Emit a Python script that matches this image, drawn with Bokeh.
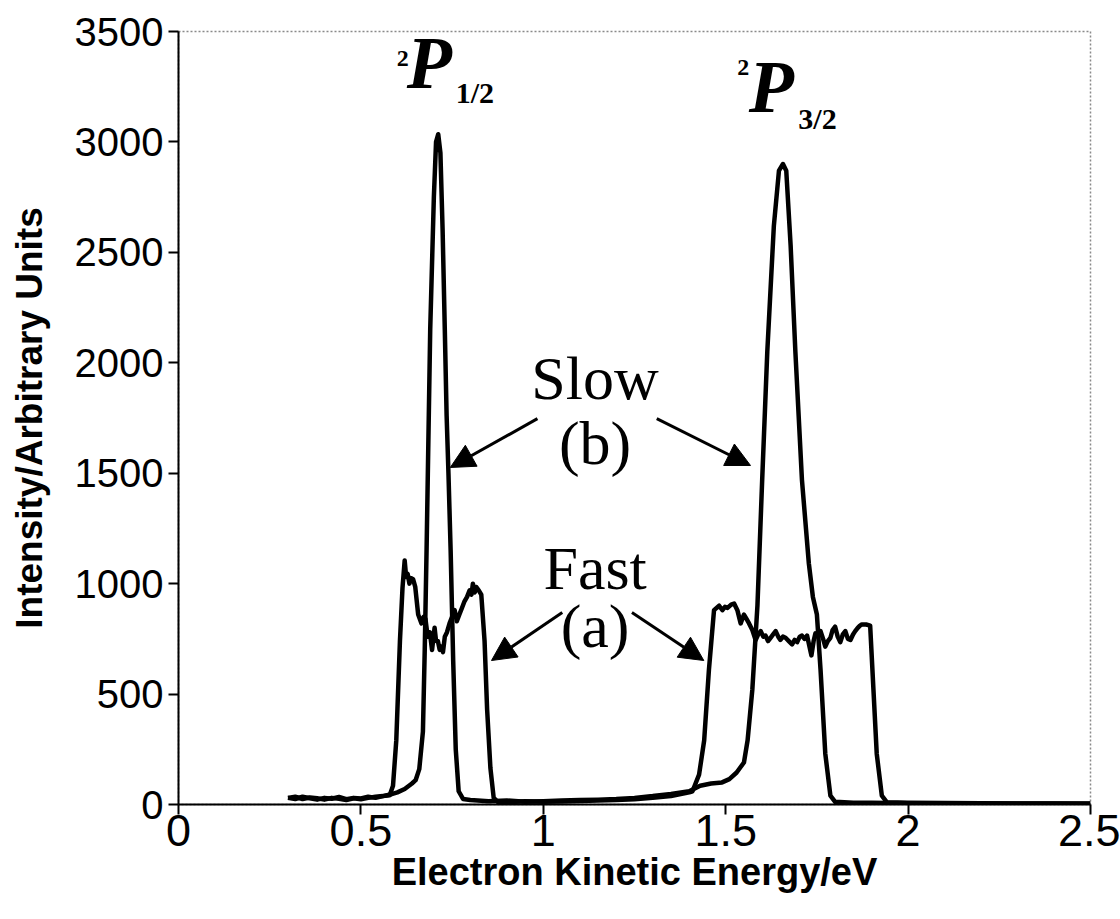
from bokeh.plotting import figure
from bokeh.models import Label, Arrow, NormalHead, FixedTicker, Range1d
from bokeh.embed import file_html
from bokeh.resources import INLINE

# ---------------- data ----------------
x_ticks = [0, 0.5, 1, 1.5, 2, 2.5]
x_tick_labels = ["0", "0.5", "1", "1.5", "2", "2.5"]
y_ticks = [0, 500, 1000, 1500, 2000, 2500, 3000, 3500]

# Slow (b) spectrum
slow_energy = [0.30, 0.32, 0.34, 0.36, 0.38, 0.40, 0.42, 0.44, 0.46, 0.48, 0.50, 0.52, 0.54,
               0.56, 0.58, 0.60, 0.62, 0.64, 0.65, 0.66, 0.67, 0.675, 0.68, 0.69, 0.70, 0.706,
               0.712, 0.718, 0.724, 0.730, 0.735, 0.740, 0.746, 0.753, 0.760, 0.768, 0.78, 0.80,
               0.85, 0.90, 0.95, 1.00, 1.05, 1.10, 1.15, 1.20, 1.25, 1.30, 1.35, 1.40, 1.43, 1.46,
               1.49, 1.51, 1.53, 1.55, 1.56, 1.573, 1.587, 1.60, 1.614, 1.632, 1.646, 1.657, 1.666,
               1.678, 1.691, 1.709, 1.728, 1.739, 1.75, 1.76, 1.773, 1.787, 1.80, 1.85, 1.90, 2.0,
               2.1, 2.2, 2.3, 2.4, 2.5]
slow_intensity = [30, 25, 35, 28, 22, 30, 26, 34, 24, 30, 27, 35, 30,
                  38, 45, 55, 70, 95, 110, 160, 330, 700, 1150, 2150, 2750, 3000,
                  3035, 2950, 2600, 2150, 1760, 1500, 1150, 650, 250, 60, 25, 20,
                  15, 18, 12, 15, 18, 20, 22, 25, 30, 38, 48, 60, 85, 95,
                  100, 115, 145, 190, 290, 520, 900, 1470, 2050, 2620, 2870, 2900, 2870,
                  2530, 2050, 1470, 1090, 940, 860, 610, 230, 40, 12, 8, 8, 6,
                  6, 5, 5, 4, 3]

# Fast (a) spectrum
fast_energy = [0.30, 0.32, 0.34, 0.36, 0.38, 0.40, 0.42, 0.44, 0.46, 0.48, 0.50, 0.52, 0.54,
               0.56, 0.579, 0.588, 0.597, 0.607, 0.614, 0.620, 0.624, 0.628, 0.633, 0.637, 0.643,
               0.649, 0.657, 0.666, 0.672, 0.677, 0.683, 0.689, 0.695, 0.702, 0.706, 0.711, 0.716,
               0.720, 0.725, 0.730, 0.736, 0.743, 0.750, 0.757, 0.763, 0.770, 0.777, 0.784, 0.791,
               0.798, 0.803, 0.807, 0.812, 0.816, 0.823, 0.830, 0.839, 0.846, 0.855, 0.864, 0.875,
               0.90, 0.95, 1.00, 1.05, 1.10, 1.15, 1.20, 1.25, 1.30, 1.35, 1.40, 1.409, 1.427,
               1.441, 1.454, 1.468, 1.482, 1.491, 1.498, 1.505, 1.515, 1.523, 1.532, 1.541, 1.550,
               1.557, 1.564, 1.573, 1.582, 1.589, 1.596, 1.603, 1.609, 1.616, 1.623, 1.630, 1.637,
               1.644, 1.650, 1.657, 1.664, 1.673, 1.682, 1.689, 1.696, 1.703, 1.709, 1.716, 1.723,
               1.729, 1.735, 1.741, 1.746, 1.753, 1.760, 1.767, 1.773, 1.780, 1.787, 1.793, 1.800,
               1.807, 1.814, 1.821, 1.828, 1.835, 1.842, 1.849, 1.855, 1.862, 1.868, 1.873, 1.885,
               1.896, 1.905, 1.914, 1.928, 1.942, 2.0, 2.1, 2.2, 2.3, 2.4, 2.5]
fast_intensity = [30, 35, 25, 32, 28, 22, 30, 26, 20, 28, 24, 30, 35,
                  38, 42, 85, 290, 740, 980, 1105, 1030, 1045, 1000, 1025, 1020,
                  985, 860, 820, 850, 840, 760, 780, 700, 800, 740, 740, 700,
                  715, 690, 760, 780, 820, 850, 880, 830, 860, 890, 920, 940,
                  970, 950, 1000, 960, 985, 970, 950, 740, 430, 165, 30, 12,
                  10, 15, 12, 14, 16, 18, 20, 24, 30, 38, 55, 60, 135,
                  290, 610, 880, 900, 880, 895, 890, 905, 910, 880, 820, 860,
                  840, 820, 790, 745, 770, 785, 760, 765, 740, 755, 770, 785,
                  760, 745, 760, 755, 740, 725, 745, 735, 760, 765, 750, 765,
                  720, 675, 740, 775, 760, 785, 750, 715, 740, 755, 790, 805,
                  760, 735, 770, 785, 750, 745, 770, 785, 800, 810, 815, 815,
                  810, 520, 230, 40, 10, 8, 7, 6, 5, 5, 4]

# ---------------- figure ----------------
p = figure(width=1120, height=919, x_range=Range1d(0, 2.5), y_range=Range1d(0, 3500),
           output_backend="svg", toolbar_location=None,
           min_border_left=178, min_border_right=30, min_border_top=31, min_border_bottom=115)
p.background_fill_color = "white"
p.border_fill_color = "white"
p.xgrid.visible = False
p.ygrid.visible = False
p.outline_line_color = "#8a8a8a"
p.outline_line_dash = "2 2"
p.outline_line_width = 1.5

for ax in (p.xaxis[0], p.yaxis[0]):
    ax.axis_line_color = "black"
    ax.axis_line_width = 2
    ax.major_tick_line_color = "black"
    ax.major_tick_line_width = 2
    ax.major_tick_out = 10
    ax.major_tick_in = 0
    ax.minor_tick_out = 0
    ax.minor_tick_in = 0
    ax.major_label_text_font = "Liberation Sans"
    ax.major_label_text_color = "black"
    ax.axis_label_text_font = "Liberation Sans"
    ax.axis_label_text_font_style = "bold"
    ax.axis_label_text_color = "black"

p.xaxis.ticker = FixedTicker(ticks=x_ticks)
p.xaxis.major_label_overrides = {t: l for t, l in zip(x_ticks, x_tick_labels)}
p.yaxis.ticker = FixedTicker(ticks=y_ticks)
p.xaxis.axis_label = "Electron Kinetic Energy/eV"
p.yaxis.axis_label = "Intensity/Arbitrary Units"
p.xaxis.major_label_text_font_size = "45px"
p.yaxis.major_label_text_font_size = "40px"
p.xaxis.axis_label_text_font_size = "38px"
p.yaxis.axis_label_text_font_size = "37px"
p.xaxis.major_label_standoff = 0
p.yaxis.major_label_standoff = 5
p.xaxis.axis_label_standoff = 2
p.yaxis.axis_label_standoff = 22

p.line(fast_energy, fast_intensity, line_color="black", line_width=4.5, line_join="round")
p.line(slow_energy, slow_intensity, line_color="black", line_width=4.5, line_join="round")

# ---------------- annotations ----------------
serif = "Liberation Serif"
for txt, x, y in [("Slow", 1.142, 1933), ("(b)", 1.142, 1639), ("Fast", 1.142, 1073), ("(a)", 1.142, 806)]:
    p.add_layout(Label(x=x, y=y, text=txt, text_align="center", text_baseline="alphabetic",
                       text_font=serif, text_font_size="62px", text_color="black"))

for xs, ys, xe, ye in [(0.984, 1747, 0.745, 1526), (1.311, 1747, 1.568, 1535),
                       (1.052, 869, 0.858, 652), (1.243, 869, 1.44, 652)]:
    p.add_layout(Arrow(end=NormalHead(size=24, fill_color="black", line_color="black", line_width=1),
                       x_start=xs, y_start=ys, x_end=xe, y_end=ye, line_width=3, line_color="black"))

# term symbols 2P1/2 and 2P3/2
for sup_x, p_x, sub_x, sup_y, p_y, sub_y, sub in [
        (0.598, 0.626, 0.760, 3377, 3359, 3223, "1/2"),
        (1.532, 1.563, 1.699, 3336, 3250, 3105, "3/2")]:
    p.add_layout(Label(x=sup_x, y=sup_y, text="2", text_font=serif, text_font_style="bold",
                       text_font_size="24px", text_baseline="alphabetic", text_color="black"))
    p.add_layout(Label(x=p_x, y=p_y, text="P", text_font=serif, text_font_style="bold italic",
                       text_font_size="74px", text_baseline="alphabetic", text_color="black"))
    p.add_layout(Label(x=sub_x, y=sub_y, text=sub, text_font=serif, text_font_style="bold",
                       text_font_size="30px", text_baseline="alphabetic", text_color="black"))

open("out.html", "w").write(file_html(p, INLINE))
